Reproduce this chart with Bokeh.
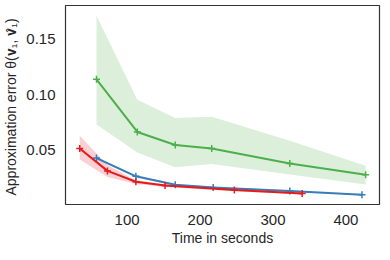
from bokeh.plotting import figure
from bokeh.models import FixedTicker, PrintfTickFormatter, Range1d
from bokeh.embed import file_html
from bokeh.resources import INLINE

# Data
green_x = [58, 114, 166, 216, 323, 427]
green_y = [0.1137, 0.0664, 0.0547, 0.0516, 0.0380, 0.0279]
green_hi = [0.1707, 0.0953, 0.0790, 0.0800, 0.0584, 0.0361]
green_lo = [0.0730, 0.0480, 0.0347, 0.0375, 0.0281, 0.0191]

blue_x = [58, 112, 166, 218, 323, 422]
blue_y = [0.0429, 0.0265, 0.0189, 0.0164, 0.0134, 0.0100]
blue_hi = [0.0440, 0.0275, 0.0197, 0.0171, 0.0141, 0.0106]
blue_lo = [0.0418, 0.0255, 0.0181, 0.0157, 0.0127, 0.0094]

red_x = [35, 73, 112, 152, 247, 340]
red_y = [0.0516, 0.0314, 0.0216, 0.0183, 0.0142, 0.0110]
red_hi = [0.0629, 0.0366, 0.0230, 0.0195, 0.0152, 0.0118]
red_lo = [0.0416, 0.0260, 0.0197, 0.0170, 0.0132, 0.0102]

x_ticks = [100, 200, 300, 400]
y_ticks = [0.05, 0.10, 0.15]

p = figure(frame_width=314, frame_height=199, output_backend="svg", toolbar_location=None,
           x_range=Range1d(15.5, 446), y_range=Range1d(0.0012, 0.18),
           min_border_left=57, min_border_right=3, min_border_top=5,
           min_border_bottom=40)

series = [
    (green_x, green_y, green_lo, green_hi, "#4daf4a"),
    (blue_x, blue_y, blue_lo, blue_hi, "#377eb8"),
    (red_x, red_y, red_lo, red_hi, "#e41a1c"),
]
for xs, ys, lo, hi, c in series:
    p.varea(x=xs, y1=lo, y2=hi, fill_color=c, fill_alpha=0.2)
for xs, ys, lo, hi, c in series:
    p.line(xs, ys, line_color=c, line_width=2)
    p.scatter(xs, ys, marker="cross", size=7, line_color=c, line_width=1.5)

p.grid.visible = False
p.outline_line_color = "#333333"
p.outline_line_width = 1.2
p.background_fill_color = "white"
p.border_fill_color = "white"

for ax in (p.xaxis[0], p.yaxis[0]):
    ax.axis_line_color = None
    ax.major_tick_line_color = None
    ax.minor_tick_line_color = None
    ax.major_label_text_font = "Liberation Sans"
    ax.major_label_text_font_size = "15px"
    ax.major_label_text_color = "#262626"
    ax.axis_label_text_font = "Liberation Sans"
    ax.axis_label_text_font_size = "14px"
    ax.axis_label_text_font_style = "normal"
    ax.axis_label_text_color = "#262626"
    ax.major_label_standoff = 4

p.xaxis.ticker = FixedTicker(ticks=x_ticks)
p.yaxis.ticker = FixedTicker(ticks=y_ticks)
p.yaxis.formatter = PrintfTickFormatter(format="%.2f")
p.xaxis.axis_label = "Time in seconds"
p.yaxis.axis_label = "Approximation error  θ(𝐯₁, 𝐯̂₁)"
p.xaxis.axis_label_standoff = 2
p.yaxis.axis_label_standoff = 4

open("out.html", "w").write(file_html(p, INLINE))
